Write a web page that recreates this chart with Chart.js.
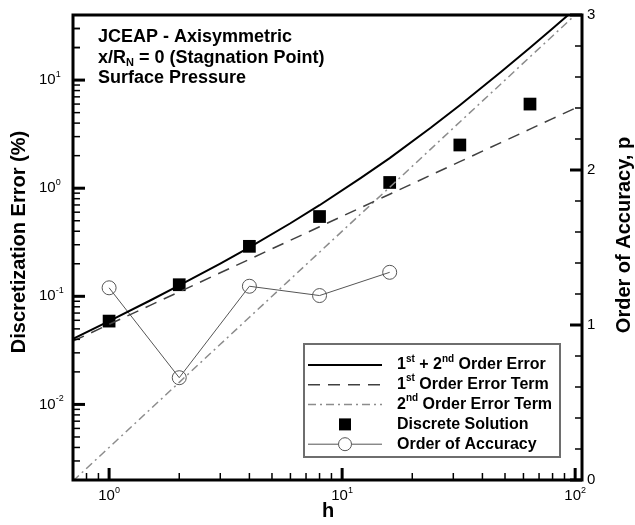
<!DOCTYPE html>
<html>
<head>
<meta charset="utf-8">
<script src="https://cdn.jsdelivr.net/npm/chart.js@4.4.1/dist/chart.umd.min.js"></script>
<style>
  body { margin: 0; background: #fff; }
  canvas { display: block; }
</style>
</head>
<body>
<canvas id="grafico" width="635" height="525"></canvas>
<script>
// grid spacing and discrete solution error (%)
const hGrid = [1, 2, 4, 8, 16, 32, 64];
const discreteError = [0.059, 0.128, 0.29, 0.547, 1.13, 2.51, 6.0];

// observed order of accuracy (right axis)
const hOrder = [1, 2, 4, 8, 16];
const orderOfAccuracy = [1.24, 0.66, 1.25, 1.19, 1.34];

// error curves
const hCurve = [0.7, 1, 1.5, 2, 3, 4, 6, 8, 12, 16, 24, 32, 48, 64, 80, 100, 110];
const totalError = [0.0405, 0.059, 0.0915, 0.126, 0.201, 0.284, 0.474, 0.696, 1.24, 1.90, 3.62, 5.86, 11.9, 19.9, 30.0, 45.5, 54.5];
const firstOrderTerm = [0.0385, 0.055, 0.0825, 0.11, 0.165, 0.22, 0.33, 0.44, 0.66, 0.88, 1.32, 1.76, 2.64, 3.52, 4.4, 5.5, 6.05];
const secondOrderTerm = [0.00196, 0.004, 0.009, 0.016, 0.036, 0.064, 0.144, 0.256, 0.576, 1.02, 2.3, 4.1, 9.2, 16.4, 25.6, 40, 48.4];

// tick labels
const hTickExponents = [0, 1, 2];
const errorTickExponents = [-2, -1, 0, 1];
const orderTicks = [0, 1, 2, 3];

const FONT = '"Liberation Sans", Arial, Helvetica, sans-serif';

function pares(xs, ys) {
    return xs.map((x, i) => ({ x: x, y: ys[i] }));
}

// draw text made of pieces, some superscript or subscript
function textoRico(ctx, partes, x, y, size, bold) {
    let cx = x;
    partes.forEach(p => {
        const s = p[1] ? Math.round(size * 0.62) : size;
        ctx.font = (bold ? 'bold ' : '') + s + 'px ' + FONT;
        let dy = 0;
        if (p[1] === 'sup') dy = -size * 0.38;
        if (p[1] === 'sub') dy = size * 0.3;
        ctx.fillText(p[0], cx, y + dy);
        cx += ctx.measureText(p[0]).width;
    });
    return cx - x;
}

function anchoRico(ctx, partes, size, bold) {
    let w = 0;
    partes.forEach(p => {
        const s = p[1] ? Math.round(size * 0.62) : size;
        ctx.font = (bold ? 'bold ' : '') + s + 'px ' + FONT;
        w += ctx.measureText(p[0]).width;
    });
    return w;
}

const decoracion = {
    id: 'decoracion',
    afterDatasetsDraw(chart) {
        const ctx = chart.ctx;
        const a = chart.chartArea;
        const sx = chart.scales.x, sy = chart.scales.y, sp = chart.scales.p;
        ctx.save();
        ctx.fillStyle = '#000';
        ctx.strokeStyle = '#000';
        ctx.textBaseline = 'middle';

        // ticks on the bottom axis (pointing inward)
        ctx.textAlign = 'left';
        hTickExponents.forEach(e => {
            for (let m = 1; m <= 9; m++) {
                const v = m * Math.pow(10, e);
                if (v < sx.min || v > sx.max) continue;
                const px = sx.getPixelForValue(v);
                ctx.lineWidth = m === 1 ? 3 : 1.5;
                ctx.beginPath();
                ctx.moveTo(px, a.bottom);
                ctx.lineTo(px, a.bottom - (m === 1 ? 12 : 7));
                ctx.stroke();
            }
        });
        [0.8, 0.9].forEach(v => {
            const px = sx.getPixelForValue(v);
            ctx.lineWidth = 1.5;
            ctx.beginPath();
            ctx.moveTo(px, a.bottom);
            ctx.lineTo(px, a.bottom - 7);
            ctx.stroke();
        });
        hTickExponents.forEach(e => {
            const partes = [['10', null], [String(e), 'sup']];
            const w = anchoRico(ctx, partes, 15, false);
            const px = sx.getPixelForValue(Math.pow(10, e));
            textoRico(ctx, partes, px - w / 2, 496, 15, false);
        });

        // ticks on the left log axis
        errorTickExponents.forEach(e => {
            for (let m = 1; m <= 9; m++) {
                const v = m * Math.pow(10, e);
                if (v < sy.min || v > sy.max) continue;
                const py = sy.getPixelForValue(v);
                ctx.lineWidth = m === 1 ? 3 : 1.5;
                ctx.beginPath();
                ctx.moveTo(a.left, py);
                ctx.lineTo(a.left + (m === 1 ? 12 : 7), py);
                ctx.stroke();
            }
            const py = sy.getPixelForValue(Math.pow(10, e));
            textoRico(ctx, [['10', null], [String(e), 'sup']], 39, py, 15, false);
        });
        [0.003, 0.004, 0.005, 0.006, 0.007, 0.008, 0.009, 20, 30].forEach(v => {
            const py = sy.getPixelForValue(v);
            ctx.lineWidth = 1.5;
            ctx.beginPath();
            ctx.moveTo(a.left, py);
            ctx.lineTo(a.left + 7, py);
            ctx.stroke();
        });

        // ticks on the right linear axis
        for (let k = 0; k <= 15; k++) {
            const v = k * 0.2;
            const py = sp.getPixelForValue(v);
            const mayor = k % 5 === 0;
            ctx.lineWidth = mayor ? 3 : 1.5;
            ctx.beginPath();
            ctx.moveTo(a.right, py);
            ctx.lineTo(a.right - (mayor ? 12 : 7), py);
            ctx.stroke();
        }
        ctx.font = '15px ' + FONT;
        orderTicks.forEach(v => {
            ctx.fillText(String(v), 587, sp.getPixelForValue(v));
        });

        // frame
        ctx.lineWidth = 3;
        ctx.strokeRect(a.left, a.top, a.right - a.left, a.bottom - a.top);

        // axis titles
        ctx.font = 'bold 20px ' + FONT;
        ctx.textAlign = 'center';
        ctx.fillText('h', 328, 511);
        ctx.save();
        ctx.translate(19, 242);
        ctx.rotate(-Math.PI / 2);
        ctx.fillText('Discretization Error (%)', 0, 0);
        ctx.restore();
        ctx.save();
        ctx.translate(624, 235);
        ctx.rotate(-Math.PI / 2);
        ctx.fillText('Order of Accuracy, p', 0, 0);
        ctx.restore();

        // case annotation
        ctx.textAlign = 'left';
        textoRico(ctx, [['JCEAP - Axisymmetric', null]], 98, 37, 18, true);
        textoRico(ctx, [['x/R', null], ['N', 'sub'], [' = 0 (Stagnation Point)', null]], 98, 58, 18, true);
        textoRico(ctx, [['Surface Pressure', null]], 98, 78, 18, true);

        // legend
        ctx.fillStyle = '#fff';
        ctx.fillRect(304, 344, 256, 113);
        ctx.strokeStyle = '#6e6e6e';
        ctx.lineWidth = 2;
        ctx.strokeRect(304, 344, 256, 113);
        const filas = [
            { texto: [['1', null], ['st', 'sup'], [' + 2', null], ['nd', 'sup'], [' Order Error', null]], color: '#000', ancho: 2, dash: [] },
            { texto: [['1', null], ['st', 'sup'], [' Order Error Term', null]], color: '#404040', ancho: 1.5, dash: [12, 8] },
            { texto: [['2', null], ['nd', 'sup'], [' Order Error Term', null]], color: '#8c8c8c', ancho: 1.5, dash: [8, 4, 2, 4] },
            { texto: [['Discrete Solution', null]], marca: 'cuadro' },
            { texto: [['Order of Accuracy', null]], color: '#555', ancho: 1, dash: [], marca: 'circulo' }
        ];
        filas.forEach((f, i) => {
            const y = 365 + i * 19.8;
            if (f.color) {
                ctx.strokeStyle = f.color;
                ctx.lineWidth = f.ancho;
                ctx.setLineDash(f.dash);
                ctx.beginPath();
                ctx.moveTo(308, y);
                ctx.lineTo(382, y);
                ctx.stroke();
                ctx.setLineDash([]);
            }
            if (f.marca === 'cuadro') {
                ctx.fillStyle = '#000';
                ctx.fillRect(339, y - 6, 12, 12);
            }
            if (f.marca === 'circulo') {
                ctx.fillStyle = '#fff';
                ctx.strokeStyle = '#555';
                ctx.lineWidth = 1;
                ctx.beginPath();
                ctx.arc(345, y, 6.5, 0, Math.PI * 2);
                ctx.fill();
                ctx.stroke();
            }
            ctx.fillStyle = '#000';
            textoRico(ctx, f.texto, 397, y, 16, true);
        });

        ctx.restore();
    }
};

new Chart(document.getElementById('grafico').getContext('2d'), {
    type: 'scatter',
    data: {
        datasets: [
            {
                label: '1st + 2nd Order Error',
                data: pares(hCurve, totalError),
                showLine: true, borderColor: '#000', borderWidth: 2,
                pointRadius: 0, yAxisID: 'y'
            },
            {
                label: '1st Order Error Term',
                data: pares(hCurve, firstOrderTerm),
                showLine: true, borderColor: '#404040', borderWidth: 1.5,
                borderDash: [12, 8], pointRadius: 0, yAxisID: 'y'
            },
            {
                label: '2nd Order Error Term',
                data: pares(hCurve, secondOrderTerm),
                showLine: true, borderColor: '#8c8c8c', borderWidth: 1.5,
                borderDash: [8, 4, 2, 4], pointRadius: 0, yAxisID: 'y'
            },
            {
                label: 'Discrete Solution',
                data: pares(hGrid, discreteError),
                showLine: false, pointStyle: 'rect', pointRadius: 9,
                backgroundColor: '#000', borderColor: '#000', borderWidth: 0,
                yAxisID: 'y'
            },
            {
                label: 'Order of Accuracy',
                data: pares(hOrder, orderOfAccuracy),
                showLine: true, borderColor: '#555', borderWidth: 1,
                pointStyle: 'circle', pointRadius: 7,
                pointBackgroundColor: 'rgba(255,255,255,0)', pointBorderColor: '#555',
                pointBorderWidth: 1, yAxisID: 'p'
            }
        ]
    },
    options: {
        responsive: false,
        animation: false,
        devicePixelRatio: 1,
        layout: { padding: { left: 73, right: 53, top: 15, bottom: 45 } },
        scales: {
            x: { type: 'logarithmic', min: 0.708, max: 107, display: false },
            y: { type: 'logarithmic', min: 0.002, max: 40, display: false },
            p: { type: 'linear', min: 0, max: 3, position: 'right', display: false }
        },
        plugins: {
            legend: { display: false },
            tooltip: { enabled: false }
        }
    },
    plugins: [decoracion]
});
</script>
</body>
</html>
